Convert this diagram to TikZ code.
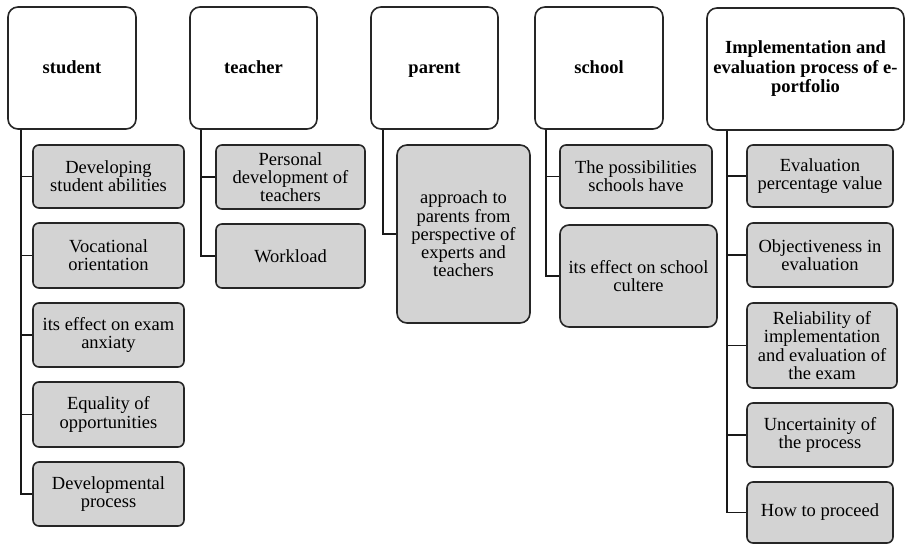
\documentclass[tikz,border=0pt]{standalone}
\usepackage{fontspec}
\setmainfont{Liberation Serif}
\definecolor{boxgray}{RGB}{211,211,211}
\begin{document}
\begin{tikzpicture}[x=1pt,y=-1pt,
  topbox/.style={draw=black!85, line width=1.6pt, rounded corners=10pt, fill=white,
    minimum height=122pt, inner sep=2pt, align=center,
    font=\fontsize{18.5}{19.5}\selectfont\bfseries},
  toplabel/.style={topbox, text height=12pt, text depth=0pt},
  subbox/.style={draw=black!85, line width=1.6pt, rounded corners=6pt, fill=boxgray,
    inner sep=2pt, align=center, font=\fontsize{18.5}{18.3}\selectfont},
  conn/.style={draw=black!90, line width=1.8pt}]
\useasboundingbox (0,0) rectangle (905,545);

% top boxes
\node[toplabel, minimum width=128pt] (student) at (72,68) {student};
\node[toplabel, minimum width=127pt] (teacher) at (253.5,68) {teacher};
\node[toplabel, minimum width=127pt] (parent) at (434.5,68) {parent};
\node[toplabel, minimum width=128pt] (school) at (599,68) {school};
\node[topbox, minimum width=197pt] (impl) at (805.5,69) {Implementation and\\evaluation process of e-\\portfolio};

% student children
\node[subbox, minimum width=151pt, minimum height=63pt] (s1) at (108.5,176.5) {Developing\\student abilities};
\node[subbox, minimum width=151pt, minimum height=65pt] (s2) at (108.5,255.5) {Vocational\\orientation};
\node[subbox, minimum width=151pt, minimum height=64pt] (s3) at (108.5,335) {its effect on exam\\anxiaty};
\node[subbox, minimum width=151pt, minimum height=65pt] (s4) at (108.5,414.5) {Equality of\\opportunities};
\node[subbox, minimum width=151pt, minimum height=64pt] (s5) at (108.5,494) {Developmental\\process};

% teacher children
\node[subbox, minimum width=149pt, minimum height=64pt] (t1) at (290.5,177) {Personal\\development of\\teachers};
\node[subbox, minimum width=149pt, minimum height=64pt] (t2) at (290.5,256) {Workload};

% parent child
\node[subbox, minimum width=133pt, minimum height=178pt, rounded corners=10pt] (p1) at (463.5,234) {approach to\\parents from\\perspective of\\experts and\\teachers};

% school children
\node[subbox, minimum width=152pt, minimum height=63pt] (c1) at (636,176.5) {The possibilities\\schools have};
\node[subbox, minimum width=157pt, minimum height=102pt, rounded corners=9pt] (c2) at (638.5,276) {its effect on school\\cultere};

% implementation children
\node[subbox, minimum width=146pt, minimum height=62pt] (e1) at (820,176) {Evaluation\\percentage value};
\node[subbox, minimum width=146pt, minimum height=64pt] (e2) at (820,255) {Objectiveness in\\evaluation};
\node[subbox, minimum width=150pt, minimum height=85pt] (e3) at (822,345.5) {Reliability of\\implementation\\and evaluation of\\the exam};
\node[subbox, minimum width=146pt, minimum height=64pt] (e4) at (820,435) {Uncertainity of\\the process};
\node[subbox, minimum width=146pt, minimum height=61pt] (e5) at (820,512.5) {How to proceed};

% connectors
\foreach \c in {s1,s2,s3,s4,s5}
  \draw[conn] ([xshift=14pt]student.south west) |- (\c.west);
\foreach \c in {t1,t2}
  \draw[conn] ([xshift=12pt]teacher.south west) |- (\c.west);
\draw[conn] ([xshift=13pt]parent.south west) |- (p1.west);
\foreach \c in {c1,c2}
  \draw[conn] ([xshift=12pt]school.south west) |- (\c.west);
\foreach \c in {e1,e2,e3,e4,e5}
  \draw[conn] ([xshift=21pt]impl.south west) |- (\c.west);
\end{tikzpicture}
\end{document}
